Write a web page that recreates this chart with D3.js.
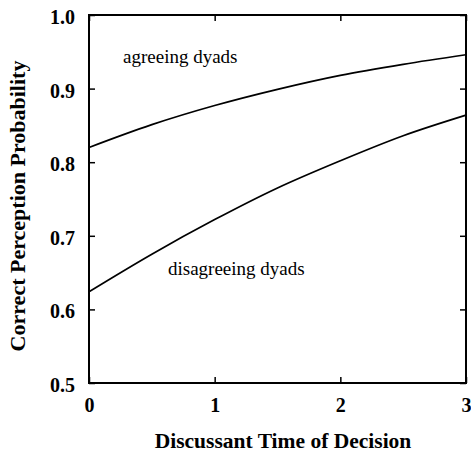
<!DOCTYPE html>
<html><head><meta charset="utf-8">
<script src="https://cdn.jsdelivr.net/npm/d3@7"></script>
<style>body{margin:0;background:#fff}</style>
</head><body>
<svg id="c" width="471" height="454"></svg>
<script>
const times = [0, 0.5, 1, 1.5, 2, 2.5, 3];
const agreeing = [0.820, 0.851, 0.877, 0.899, 0.918, 0.933, 0.946];
const disagreeing = [0.624, 0.675, 0.722, 0.765, 0.802, 0.836, 0.864];
const xTicks = [0, 1, 2, 3];
const yTicks = [0.5, 0.6, 0.7, 0.8, 0.9, 1.0];

const svg = d3.select("#c");
const L = 89, R = 466, T = 15, B = 383;
const x = d3.scaleLinear().domain([0, 3]).range([L, R]);
const y = d3.scaleLinear().domain([0.5, 1.0]).range([B, T]);
const font = "'Liberation Serif','Times New Roman',serif";

svg.append("rect").attr("x", L).attr("y", T).attr("width", R - L).attr("height", B - T)
  .attr("fill", "none").attr("stroke", "#000").attr("stroke-width", 2);

const ax = (g) => g.call(s => s.select(".domain").remove());
svg.append("g").attr("transform", `translate(0,${B})`)
  .call(d3.axisBottom(x).tickValues(xTicks).tickSize(-6).tickPadding(15).tickFormat(d3.format("d")))
  .call(ax);
svg.append("g").attr("transform", `translate(0,${T})`)
  .call(d3.axisTop(x).tickValues(xTicks).tickSize(-6).tickFormat(""))
  .call(ax);
svg.append("g").attr("class", "yl").attr("transform", `translate(${L},0)`)
  .call(d3.axisLeft(y).tickValues(yTicks).tickSize(-6).tickPadding(14).tickFormat(d3.format(".1f")))
  .call(ax);
svg.append("g").attr("transform", `translate(${R},0)`)
  .call(d3.axisRight(y).tickValues(yTicks).tickSize(-6).tickFormat(""))
  .call(ax);
svg.selectAll(".tick line").attr("stroke", "#000").attr("stroke-width", 1.5);
svg.selectAll(".tick text").attr("font-family", font).attr("font-weight", "bold")
  .attr("font-size", 20).attr("fill", "#000");
svg.selectAll(".yl .tick text").attr("dy", "0.42em");

const line = d3.line().x((d, i) => x(times[i])).y(d => y(d)).curve(d3.curveMonotoneX);
[agreeing, disagreeing].forEach(s => {
  svg.append("path").attr("d", line(s)).attr("fill", "none").attr("stroke", "#000").attr("stroke-width", 1.7);
});

svg.append("text").attr("x", 123).attr("y", 63).attr("font-family", font).attr("font-size", 19)
  .text("agreeing dyads");
svg.append("text").attr("x", 168).attr("y", 275).attr("font-family", font).attr("font-size", 19)
  .text("disagreeing dyads");

svg.append("text").attr("x", 283).attr("y", 448).attr("text-anchor", "middle")
  .attr("font-family", font).attr("font-weight", "bold").attr("font-size", 21.5)
  .text("Discussant Time of Decision");
svg.append("text").attr("transform", "translate(25,206) rotate(-90)").attr("text-anchor", "middle")
  .attr("font-family", font).attr("font-weight", "bold").attr("font-size", 22)
  .text("Correct Perception Probability");
</script>
</body></html>
